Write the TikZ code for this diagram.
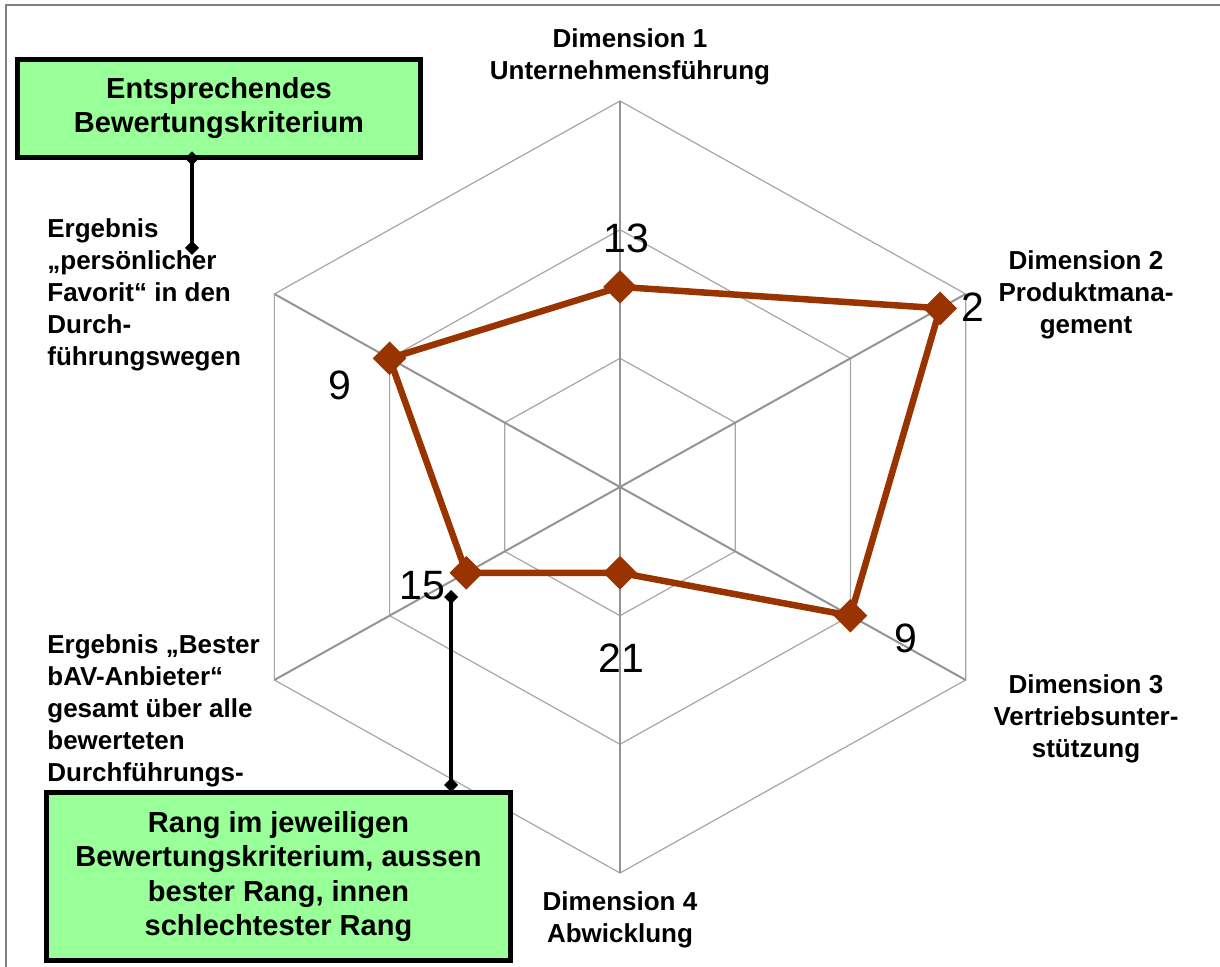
\documentclass[tikz,border=0pt]{standalone}
\usepackage{fontspec}
\setmainfont{Liberation Sans}
\usepackage{xcolor}
\usepackage{tikz}
\usetikzlibrary{shapes.geometric,arrows.meta}
\definecolor{rankred}{RGB}{153,51,0}
\definecolor{boxgreen}{RGB}{153,255,153}

\begin{document}
\begin{tikzpicture}[x=0.5pt,y=-0.5pt,
	frame/.style={draw=black!50,line width=0.75pt},
	ring/.style={draw=black!35,line width=0.6pt},
	spoke/.style={draw=black!42,line width=1pt},
	series/.style={draw=rankred,line width=3.25pt},
	marker/.style={diamond,fill=rankred,inner sep=0pt,minimum size=17pt},
	rank/.style={font=\fontsize{20.5}{24}\selectfont,anchor=base,inner sep=0pt},
	dimlabel/.style={font=\fontsize{13}{16}\selectfont\bfseries,align=center,anchor=base,inner sep=0pt},
	sidelabel/.style={font=\fontsize{13}{16}\selectfont\bfseries,align=left,anchor=base west,inner sep=0pt},
	infobox/.style={draw=black,line width=2.5pt,fill=boxgreen,align=center,inner sep=0pt},
	pointer/.style={draw=black,line width=2pt,{Diamond[length=7pt,width=7pt]}-{Diamond[length=7pt,width=7pt]}}]
	\useasboundingbox (0,0) rectangle (1220,967);
	\draw[frame] (6,967) -- (6,5) -- (1220,5);

	\begin{scope}[shift={(620,487)},yscale=-1,xscale=1.034]
		\draw[ring] (90:386) -- (30:386) -- (-30:386) -- (-90:386) -- (-150:386) -- (150:386) -- cycle;
		\draw[ring] (90:257.3) -- (30:257.3) -- (-30:257.3) -- (-90:257.3) -- (-150:257.3) -- (150:257.3) -- cycle;
		\draw[ring] (90:128.7) -- (30:128.7) -- (-30:128.7) -- (-90:128.7) -- (-150:128.7) -- (150:128.7) -- cycle;
		\draw[spoke] (90:386) -- (-90:386);
		\draw[spoke] (30:386) -- (-150:386);
		\draw[spoke] (-30:386) -- (150:386);

		\coordinate (d1) at (90:200.1);
		\coordinate (d2) at (30:357.4);
		\coordinate (d3) at (-30:257.3);
		\coordinate (d4) at (-90:85.8);
		\coordinate (d5) at (-150:171.6);
		\coordinate (d6) at (150:257.3);
		\draw[series] (d1) -- (d2) -- (d3) -- (d4) -- (d5) -- (d6) -- cycle;
		\node[marker] (m1) at (d1) {};
		\node[marker] (m2) at (d2) {};
		\node[marker] (m3) at (d3) {};
		\node[marker] (m4) at (d4) {};
		\node[marker] (m5) at (d5) {};
		\node[marker] (m6) at (d6) {};
	\end{scope}

	\node[rank] (n1) at (626,253) {13};
	\node[rank] (n2) at (973,322) {2};
	\node[rank] (n3) at (906,652) {9};
	\node[rank] (n4) at (621,672) {21};
	\node[rank] (n5) at (422,599) {15};
	\node[rank] (n6) at (340,400) {9};

	\node[dimlabel] (dim1) at (630,80) {Dimension 1\\Unternehmensführung};
	\node[dimlabel] (dim2) at (1086,334) {Dimension 2\\Produktmana-\\gement};
	\node[dimlabel] (dim3) at (1086,757) {Dimension 3\\Vertriebsunter-\\stützung};
	\node[dimlabel] (dim4) at (620,942) {Dimension 4\\Abwicklung};

	\node[sidelabel] (fav) at (47,366) {Ergebnis\\„persönlicher\\Favorit“ in den\\Durch-\\führungswegen};
	\node[sidelabel] (best) at (47,781) {Ergebnis „Bester\\bAV-Anbieter“\\gesamt über alle\\bewerteten\\Durchführungs-};

	\node[infobox,minimum width=201.5pt,minimum height=49pt,font=\fontsize{14.5}{17}\selectfont\bfseries] (crit) at (219,108.5) {Entsprechendes\\Bewertungskriterium};
	\node[infobox,minimum width=232pt,minimum height=84pt,font=\fontsize{14.5}{17.25}\selectfont\bfseries] (rangbox) at (278.5,876.5) {Rang im jeweiligen\\Bewertungskriterium, aussen\\bester Rang, innen\\schlechtester Rang};

	\coordinate (p1) at (192,255);
	\coordinate (p2) at (451,590);
	\draw[pointer] ([xshift=-13.5pt,yshift=4.25pt]crit.south) -- (p1);
	\draw[pointer] (p2) -- ([xshift=86.25pt,yshift=-1pt]rangbox.north);
\end{tikzpicture}
\end{document}
